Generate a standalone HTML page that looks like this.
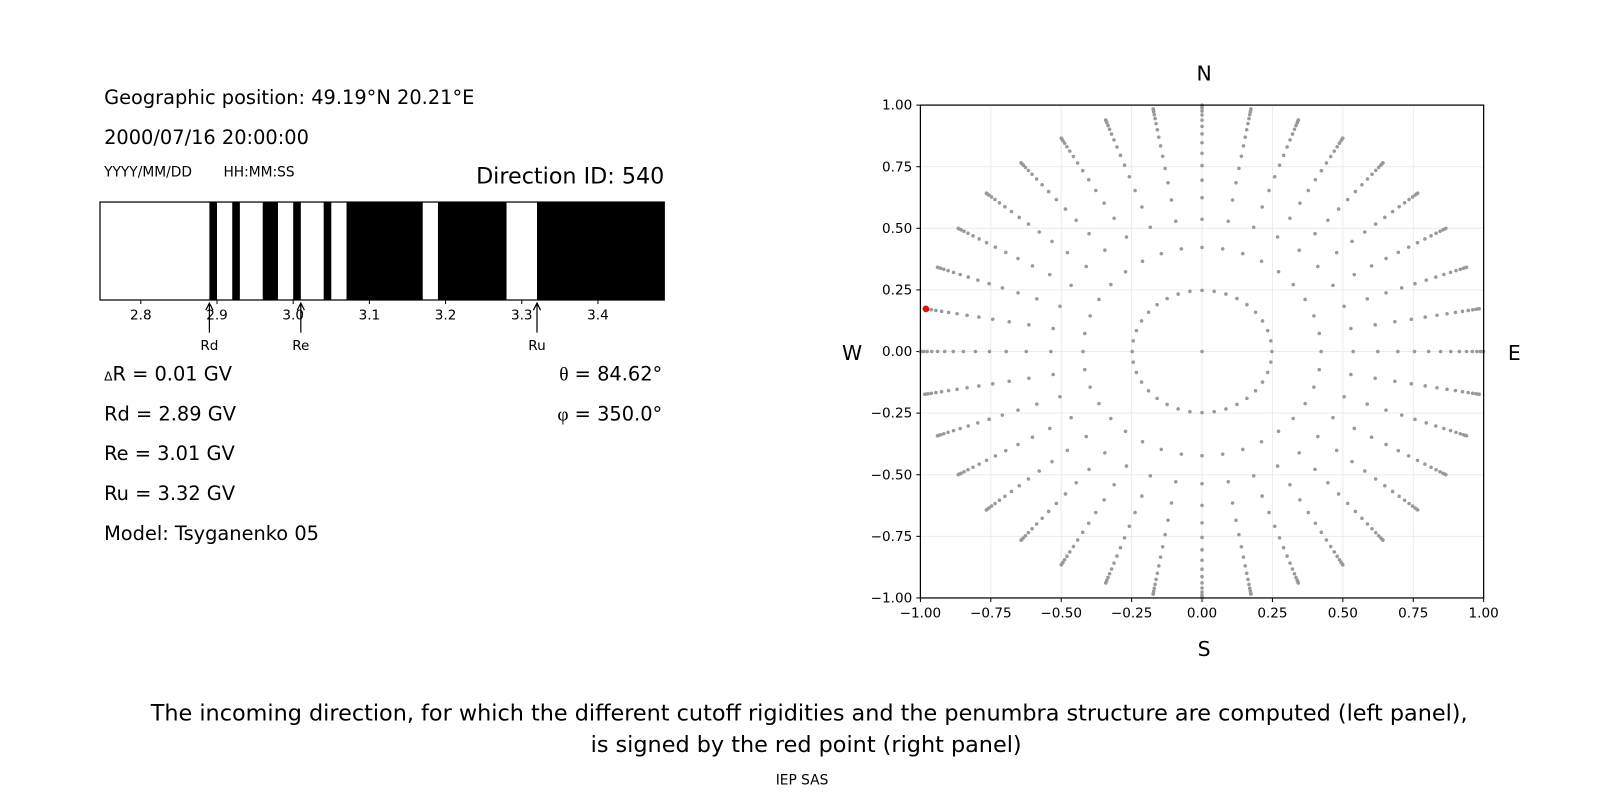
<!DOCTYPE html>
<html><head><meta charset="utf-8"><style>
html,body{margin:0;padding:0;background:#fff;}
svg{display:block;font-family:"DejaVu Sans","Liberation Sans",sans-serif;}
</style></head><body>
<svg id="s" width="1600" height="800" viewBox="0 0 1600 800" xmlns="http://www.w3.org/2000/svg">
<rect width="1600" height="800" fill="#fff"/>
<g transform="scale(1.0204)">
<g font-size="19" fill="#000">
<text x="102" y="102">Geographic position: 49.19°N 20.21°E</text>
<text x="102" y="141">2000/07/16 20:00:00</text>
<text x="102" y="173" font-size="13.5">YYYY/MM/DD</text>
<text x="219" y="173" font-size="13.5">HH:MM:SS</text>
<text x="651" y="180" font-size="21.8" text-anchor="end">Direction ID: 540</text>
<text x="102" y="373"><tspan font-size="12">Δ</tspan>R = 0.01 GV</text>
<text x="102" y="412">Rd = 2.89 GV</text>
<text x="102" y="451">Re = 3.01 GV</text>
<text x="102" y="490">Ru = 3.32 GV</text>
<text x="102" y="529">Model: Tsyganenko 05</text>
<text x="649" y="373" text-anchor="end"><tspan font-family="Liberation Serif, serif">θ</tspan> = 84.62°</text>
<text x="649" y="412" text-anchor="end"><tspan font-family="Liberation Serif, serif">φ</tspan> = 350.0°</text>
</g>
<g id="bar"></g>
<g id="sc"></g>
<g font-size="20" text-anchor="middle">
<text x="1180" y="79">N</text>
<text x="1180" y="643">S</text>
<text x="835" y="353">W</text>
<text x="1484" y="353">E</text>
</g>
<g text-anchor="middle" font-size="21.9">
<text x="793" y="706">The incoming direction, for which the different cutoff rigidities and the penumbra structure are computed (left panel),</text>
<text x="790" y="737">is signed by the red point (right panel)</text>
<text x="786" y="769" font-size="13.5">IEP SAS</text>
</g>
</g>
</svg>
<script>
var NS="http://www.w3.org/2000/svg";
function el(p,t,a,txt){var e=document.createElementNS(NS,t);for(var k in a)e.setAttribute(k,a[k]);if(txt!==undefined)e.textContent=txt;p.appendChild(e);return e;}
var b=document.getElementById("bar");
function bx(v){return 138+(v-2.8)*746.67;}
el(b,"rect",{x:98,y:198,width:553,height:96,fill:"#fff"});
var segs=[[2.89,2.90],[2.92,2.93],[2.96,2.98],[3.00,3.01],[3.04,3.05],[3.07,3.17],[3.19,3.28],[3.32,3.49]];
segs.forEach(function(s){var x1=bx(s[0]),x2=Math.min(651,bx(s[1]));el(b,"rect",{x:x1,y:198,width:x2-x1,height:96,fill:"#000"});});
el(b,"rect",{x:98,y:198,width:553,height:96,fill:"none",stroke:"#000","stroke-width":1.2});
[2.8,2.9,3.0,3.1,3.2,3.3,3.4].forEach(function(v){var x=bx(v);el(b,"line",{x1:x,y1:294,x2:x,y2:298,stroke:"#000"});el(b,"text",{x:x,y:313,"font-size":13.3,"text-anchor":"middle"},v.toFixed(1));});
[["Rd",2.89],["Re",3.01],["Ru",3.32]].forEach(function(a){var x=bx(a[1]);el(b,"line",{x1:x,y1:326,x2:x,y2:297,stroke:"#000","stroke-width":1.2});el(b,"path",{d:"M"+(x-3.5)+" 304 L"+x+" 297 L"+(x+3.5)+" 304",stroke:"#000",fill:"none","stroke-width":1.2});el(b,"text",{x:x,y:343,"font-size":13.3,"text-anchor":"middle"},a[0]);});
var g=document.getElementById("sc");
var X0=902,X1=1454,Y0=103,Y1=586;
function px(v){return X0+(v+1)/2*(X1-X0);}function py(v){return Y1-(v+1)/2*(Y1-Y0);}
var t=[-1,-0.75,-0.5,-0.25,0,0.25,0.5,0.75,1];
t.forEach(function(v){el(g,"line",{x1:px(v),y1:Y0,x2:px(v),y2:Y1,stroke:"#ebebeb","stroke-width":1});el(g,"line",{x1:X0,y1:py(v),x2:X1,y2:py(v),stroke:"#ebebeb","stroke-width":1});
el(g,"line",{x1:px(v),y1:Y1,x2:px(v),y2:Y1+4,stroke:"#000"});el(g,"text",{x:px(v),y:Y1+19,"font-size":13.3,"text-anchor":"middle"},v.toFixed(2).replace("-","−"));
el(g,"line",{x1:X0-4,y1:py(v),x2:X0,y2:py(v),stroke:"#000"});el(g,"text",{x:X0-8,y:py(v)+4.5,"font-size":13.3,"text-anchor":"end"},v.toFixed(2).replace("-","−"));});
el(g,"circle",{cx:px(0),cy:py(0),r:1.75,fill:"#999"});
for(var k=0;k<16;k++){var c=(31-2*k)/32,r=Math.sqrt(1-c*c);for(var j=0;j<36;j++){var a=j*Math.PI/18;el(g,"circle",{cx:px(r*Math.sin(a)),cy:py(r*Math.cos(a)),r:1.75,fill:"#999"});}}
var rr=Math.sqrt(1-9/1024);
el(g,"circle",{cx:px(-rr*Math.cos(Math.PI/18)),cy:py(rr*Math.sin(Math.PI/18)),r:3.3,fill:"#e8120c"});
el(g,"rect",{x:X0,y:Y0,width:X1-X0,height:Y1-Y0,fill:"none",stroke:"#000","stroke-width":1.2});
</script>
</body></html>
